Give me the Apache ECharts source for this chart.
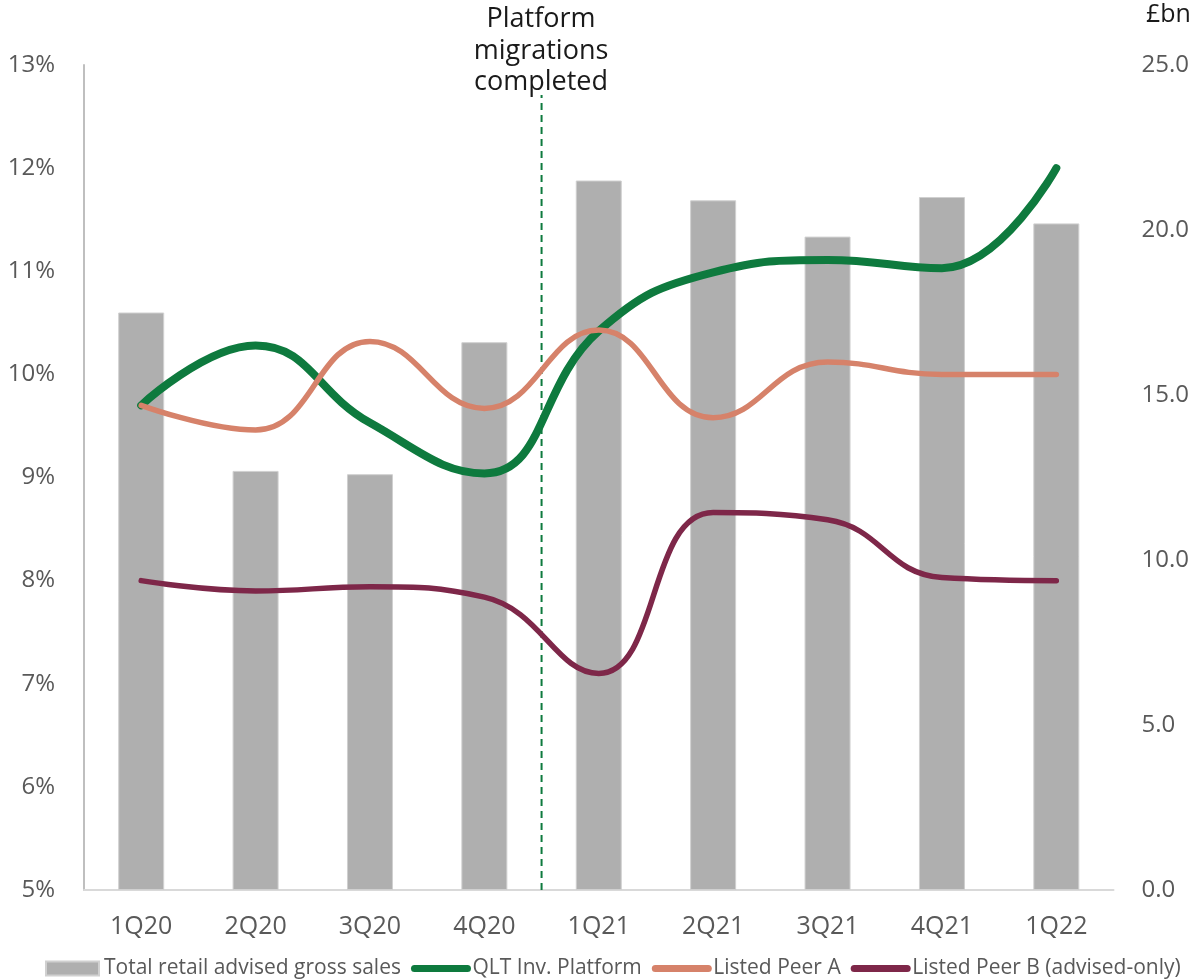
<!DOCTYPE html>
<html>
<head>
<meta charset="utf-8">
<script src="https://cdn.jsdelivr.net/npm/echarts@6/dist/echarts.min.js"></script>
<style>
html,body{margin:0;padding:0;background:#fff;}
#chart{width:1192px;height:980px;}
</style>
</head>
<body>
<div id="chart"></div>
<script>
const categories = ['1Q20','2Q20','3Q20','4Q20','1Q21','2Q21','3Q21','4Q21','1Q22'];
const grossSales = [17.5, 12.7, 12.6, 16.6, 21.5, 20.9, 19.8, 21.0, 20.2];
const qltPlatform = [9.70, 10.28, 9.53, 9.04, 10.42, 10.99, 11.11, 11.03, 12.0];
const peerA = [9.70, 9.46, 10.32, 9.67, 10.43, 9.58, 10.12, 10.0, 10.0];
const peerB = [8.0, 7.9, 7.94, 7.84, 7.1, 8.66, 8.59, 8.03, 8.0];
const leftTicks = {min: 5, max: 13, interval: 1};
const rightTicks = {min: 0, max: 25, interval: 5};
const migrationLine = [[3.5, 5], [3.5, 12.71]];
const seriesNames = ['Total retail advised gross sales', 'QLT Inv. Platform', 'Listed Peer A', 'Listed Peer B (advised-only)'];

const FONT = '"Open Sans", "Noto Sans", sans-serif';
const GREEN = '#0e7a3e', ORANGE = '#d6826a', PURPLE = '#7e2749';
const chart = echarts.init(document.getElementById('chart'));
const lineLegend = (name, color) => ({
  name: name,
  itemStyle: {opacity: 0},
  lineStyle: {color: color, width: 7, cap: 'round'}
});
chart.setOption({
  animation: false,
  textStyle: {fontFamily: FONT},
  grid: {left: 84, right: 78, top: 65, bottom: 90, containLabel: false},
  legend: {
    top: 958,
    left: 45,
    width: 1147,
    padding: 0,
    itemWidth: 53,
    itemHeight: 14,
    itemGap: 10,
    textStyle: {fontSize: 21, color: '#595959', fontFamily: FONT},
    data: [
      {name: seriesNames[0], icon: 'rect'},
      lineLegend(seriesNames[1], GREEN),
      lineLegend(seriesNames[2], ORANGE),
      lineLegend(seriesNames[3], PURPLE)
    ]
  },
  xAxis: [
    {
      type: 'category',
      data: categories,
      axisTick: {show: false},
      axisLine: {show: true, lineStyle: {color: '#d9d9d9', width: 2}},
      axisLabel: {fontSize: 25, color: '#595959', margin: 24, fontFamily: FONT}
    },
    {
      type: 'value',
      show: false,
      min: -0.5,
      max: 8.5
    }
  ],
  yAxis: [
    {
      type: 'value',
      min: leftTicks.min, max: leftTicks.max, interval: leftTicks.interval,
      splitLine: {show: false},
      axisTick: {show: false},
      axisLine: {show: true, onZero: false, lineStyle: {color: '#bfbfbf', width: 2}},
      axisLabel: {fontSize: 24, color: '#595959', margin: 29, formatter: '{value}%', fontFamily: FONT}
    },
    {
      type: 'value',
      position: 'right',
      min: rightTicks.min, max: rightTicks.max, interval: rightTicks.interval,
      splitLine: {show: false},
      axisTick: {show: false},
      axisLine: {show: false, onZero: false},
      axisLabel: {fontSize: 24, color: '#595959', margin: 28, formatter: v => v.toFixed(1), fontFamily: FONT}
    }
  ],
  series: [
    {
      name: seriesNames[0],
      type: 'bar',
      yAxisIndex: 1,
      data: grossSales,
      barWidth: 46,
      itemStyle: {color: '#afafaf', borderColor: '#d0d0d0', borderWidth: 1}
    },
    {
      name: seriesNames[1],
      type: 'line',
      data: qltPlatform,
      smooth: 0.45,
      symbol: 'none',
      lineStyle: {color: GREEN, width: 8, cap: 'round'},
      itemStyle: {color: GREEN},
      z: 4
    },
    {
      name: seriesNames[2],
      type: 'line',
      data: peerA,
      smooth: 0.45,
      symbol: 'none',
      lineStyle: {color: ORANGE, width: 5.5, cap: 'round'},
      itemStyle: {color: ORANGE},
      z: 5
    },
    {
      name: seriesNames[3],
      type: 'line',
      data: peerB,
      smooth: 0.45,
      symbol: 'none',
      lineStyle: {color: PURPLE, width: 5.5, cap: 'round'},
      itemStyle: {color: PURPLE},
      z: 4
    },
    {
      name: 'migration',
      type: 'line',
      xAxisIndex: 1,
      yAxisIndex: 0,
      data: migrationLine,
      symbol: 'none',
      silent: true,
      lineStyle: {color: GREEN, width: 2, type: [7, 5]},
      z: 3
    }
  ],
  graphic: [
    {
      type: 'text',
      left: 1146, top: 2,
      style: {text: '£bn', fontSize: 25, fill: '#1a1a1a', fontFamily: FONT}
    },
    {
      type: 'text',
      x: 541, y: 4,
      style: {
        text: 'Platform\nmigrations\ncompleted',
        fontSize: 27, lineHeight: 31.5, fill: '#1a1a1a',
        align: 'center', verticalAlign: 'top', fontFamily: FONT
      }
    }
  ]
});
</script>
</body>
</html>
